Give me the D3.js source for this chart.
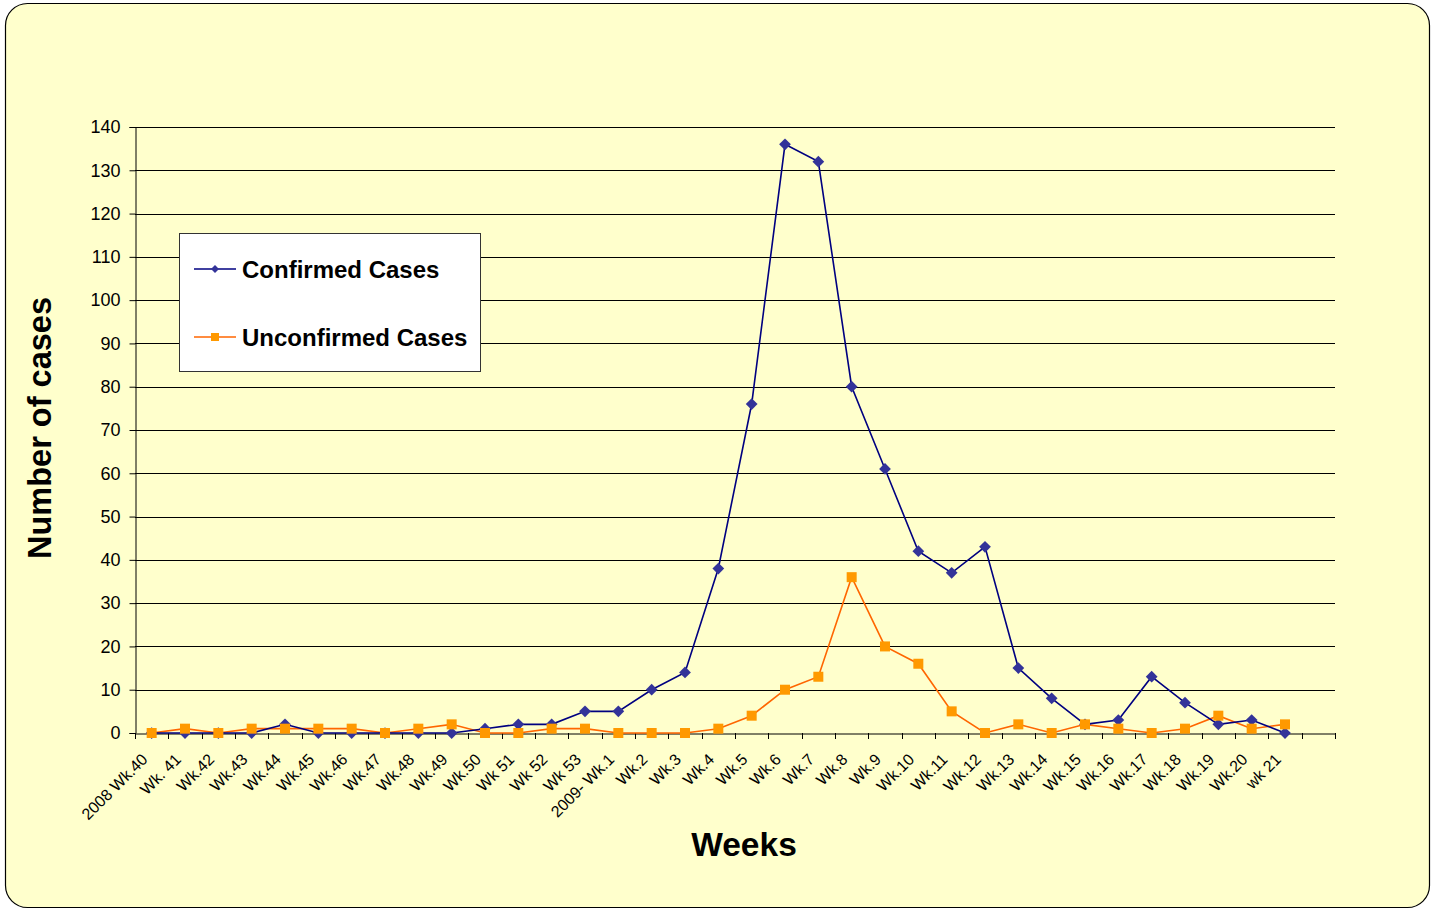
<!DOCTYPE html>
<html>
<head>
<meta charset="utf-8">
<script src="https://cdn.jsdelivr.net/npm/d3@7"></script>
<style>
  body { margin: 0; background: #fff; }
  svg { display: block; font-family: "Liberation Sans", Arial, sans-serif; }
</style>
</head>
<body>
<div id="vis"></div>
<script>
var weeks = ['2008 Wk.40', 'Wk. 41', 'Wk.42', 'Wk.43', 'Wk.44', 'Wk.45', 'Wk.46', 'Wk.47',
  'Wk.48', 'Wk.49', 'Wk.50', 'Wk 51', 'Wk 52', 'Wk 53', '2009- Wk.1', 'Wk.2', 'Wk.3',
  'Wk.4', 'Wk.5', 'Wk.6', 'Wk.7', 'Wk.8', 'Wk.9', 'Wk.10', 'Wk.11', 'Wk.12', 'Wk.13',
  'Wk.14', 'Wk.15', 'Wk.16', 'Wk.17', 'Wk.18', 'Wk.19', 'Wk.20', 'wk 21', ''];

var confirmed = [0, 0, 0, 0, 2, 0, 0, 0, 0, 0, 1, 2, 2, 5, 5, 10, 14, 38, 76, 136, 132,
  80, 61, 42, 37, 43, 15, 8, 2, 3, 13, 7, 2, 3, 0];

var unconfirmed = [0, 1, 0, 1, 1, 1, 1, 0, 1, 2, 0, 0, 1, 1, 0, 0, 0, 1, 4, 10, 13,
  36, 20, 16, 5, 0, 2, 0, 2, 1, 0, 1, 4, 1, 2];

var yTicks = d3.range(0, 141, 10);

var width = 1434, height = 909;
var margin = { left: 135, right: 99, top: 127, bottom: 176 };

var svg = d3.select('#vis').append('svg')
  .attr('width', width)
  .attr('height', height);

svg.append('rect')
  .attr('x', 5.5).attr('y', 3.5)
  .attr('width', 1424).attr('height', 904)
  .attr('rx', 22).attr('ry', 22)
  .attr('fill', '#FFFFCC')
  .attr('stroke', '#000')
  .attr('stroke-width', 1.2);

var x = d3.scaleBand()
  .domain(weeks.map(function (d, i) { return i; }))
  .range([margin.left, width - margin.right]);

var y = d3.scaleLinear()
  .domain([0, 140])
  .range([height - margin.bottom, margin.top]);

var cx = function (i) { return x(i) + x.bandwidth() / 2; };

// gridlines
svg.append('g')
  .selectAll('line')
  .data(yTicks.slice(1))
  .enter().append('line')
  .attr('x1', margin.left).attr('x2', width - margin.right)
  .attr('y1', function (d) { return Math.round(y(d)) + 0.5; })
  .attr('y2', function (d) { return Math.round(y(d)) + 0.5; })
  .attr('stroke', '#000')
  .attr('stroke-width', 1);

// y axis
var yAxis = svg.append('g')
  .attr('transform', 'translate(' + (margin.left + 0.5) + ',0)')
  .call(d3.axisLeft(y).tickValues(yTicks).tickSize(6).tickPadding(9));
yAxis.select('.domain').attr('stroke', '#000');
yAxis.selectAll('text').attr('font-size', 18).attr('fill', '#000');

// x axis
var xAxis = svg.append('g')
  .attr('transform', 'translate(0,' + (Math.round(y(0)) + 0.5) + ')')
  .call(d3.axisBottom(x).tickFormat(function (i) { return weeks[i]; }).tickSize(0).tickPadding(0));
xAxis.select('.domain').attr('stroke', '#000');
xAxis.selectAll('.tick text')
  .attr('font-size', 16)
  .attr('fill', '#000')
  .attr('text-anchor', 'end')
  .attr('transform', 'translate(-7,23) rotate(-45)')
  .attr('dy', '0.35em')
  .attr('y', 0);

// x ticks at band boundaries
svg.append('g')
  .selectAll('line')
  .data(d3.range(weeks.length + 1))
  .enter().append('line')
  .attr('x1', function (i) { return Math.round(margin.left + i * x.step()) + 0.5; })
  .attr('x2', function (i) { return Math.round(margin.left + i * x.step()) + 0.5; })
  .attr('y1', Math.round(y(0)))
  .attr('y2', Math.round(y(0)) + 6)
  .attr('stroke', '#000');

var line = d3.line()
  .x(function (d, i) { return cx(i); })
  .y(function (d) { return y(d); });

// unconfirmed
svg.append('path')
  .datum(unconfirmed)
  .attr('fill', 'none')
  .attr('stroke', '#FF6600')
  .attr('stroke-width', 1.6)
  .attr('d', line);

// confirmed
svg.append('path')
  .datum(confirmed)
  .attr('fill', 'none')
  .attr('stroke', '#000080')
  .attr('stroke-width', 1.6)
  .attr('d', line);

svg.append('g')
  .selectAll('path')
  .data(confirmed)
  .enter().append('path')
  .attr('d', d3.symbol().type(d3.symbolDiamond2).size(88))
  .attr('transform', function (d, i) { return 'translate(' + cx(i) + ',' + y(d) + ')'; })
  .attr('fill', '#333399');

svg.append('g')
  .selectAll('rect')
  .data(unconfirmed)
  .enter().append('rect')
  .attr('x', function (d, i) { return cx(i) - 5; })
  .attr('y', function (d) { return y(d) - 5; })
  .attr('width', 10).attr('height', 10)
  .attr('fill', '#FF9900');

// legend
var legend = svg.append('g');
legend.append('rect')
  .attr('x', 179.5).attr('y', 233.5)
  .attr('width', 301).attr('height', 138)
  .attr('fill', '#fff')
  .attr('stroke', '#333');

var items = [
  { name: 'Confirmed Cases', line: '#000080', mark: '#333399', type: 'diamond', y: 269 },
  { name: 'Unconfirmed Cases', line: '#FF6600', mark: '#FF9900', type: 'square', y: 337 }
];

items.forEach(function (it) {
  legend.append('line')
    .attr('x1', 194).attr('x2', 236)
    .attr('y1', it.y).attr('y2', it.y)
    .attr('stroke', it.line).attr('stroke-width', 1.5);
  if (it.type === 'diamond') {
    legend.append('path')
      .attr('d', d3.symbol().type(d3.symbolDiamond2).size(40))
      .attr('transform', 'translate(215,' + it.y + ')')
      .attr('fill', it.mark);
  } else {
    legend.append('rect')
      .attr('x', 211).attr('y', it.y - 4)
      .attr('width', 8).attr('height', 8)
      .attr('fill', it.mark);
  }
  legend.append('text')
    .attr('x', 242).attr('y', it.y)
    .attr('dy', '0.36em')
    .attr('font-size', 24)
    .attr('font-weight', 'bold')
    .text(it.name);
});

// axis titles
svg.append('text')
  .attr('transform', 'translate(51,428) rotate(-90)')
  .attr('text-anchor', 'middle')
  .attr('font-size', 32.5)
  .attr('font-weight', 'bold')
  .text('Number of cases');

svg.append('text')
  .attr('x', 744).attr('y', 856)
  .attr('text-anchor', 'middle')
  .attr('font-size', 33.5)
  .attr('font-weight', 'bold')
  .text('Weeks');
</script>
</body>
</html>
